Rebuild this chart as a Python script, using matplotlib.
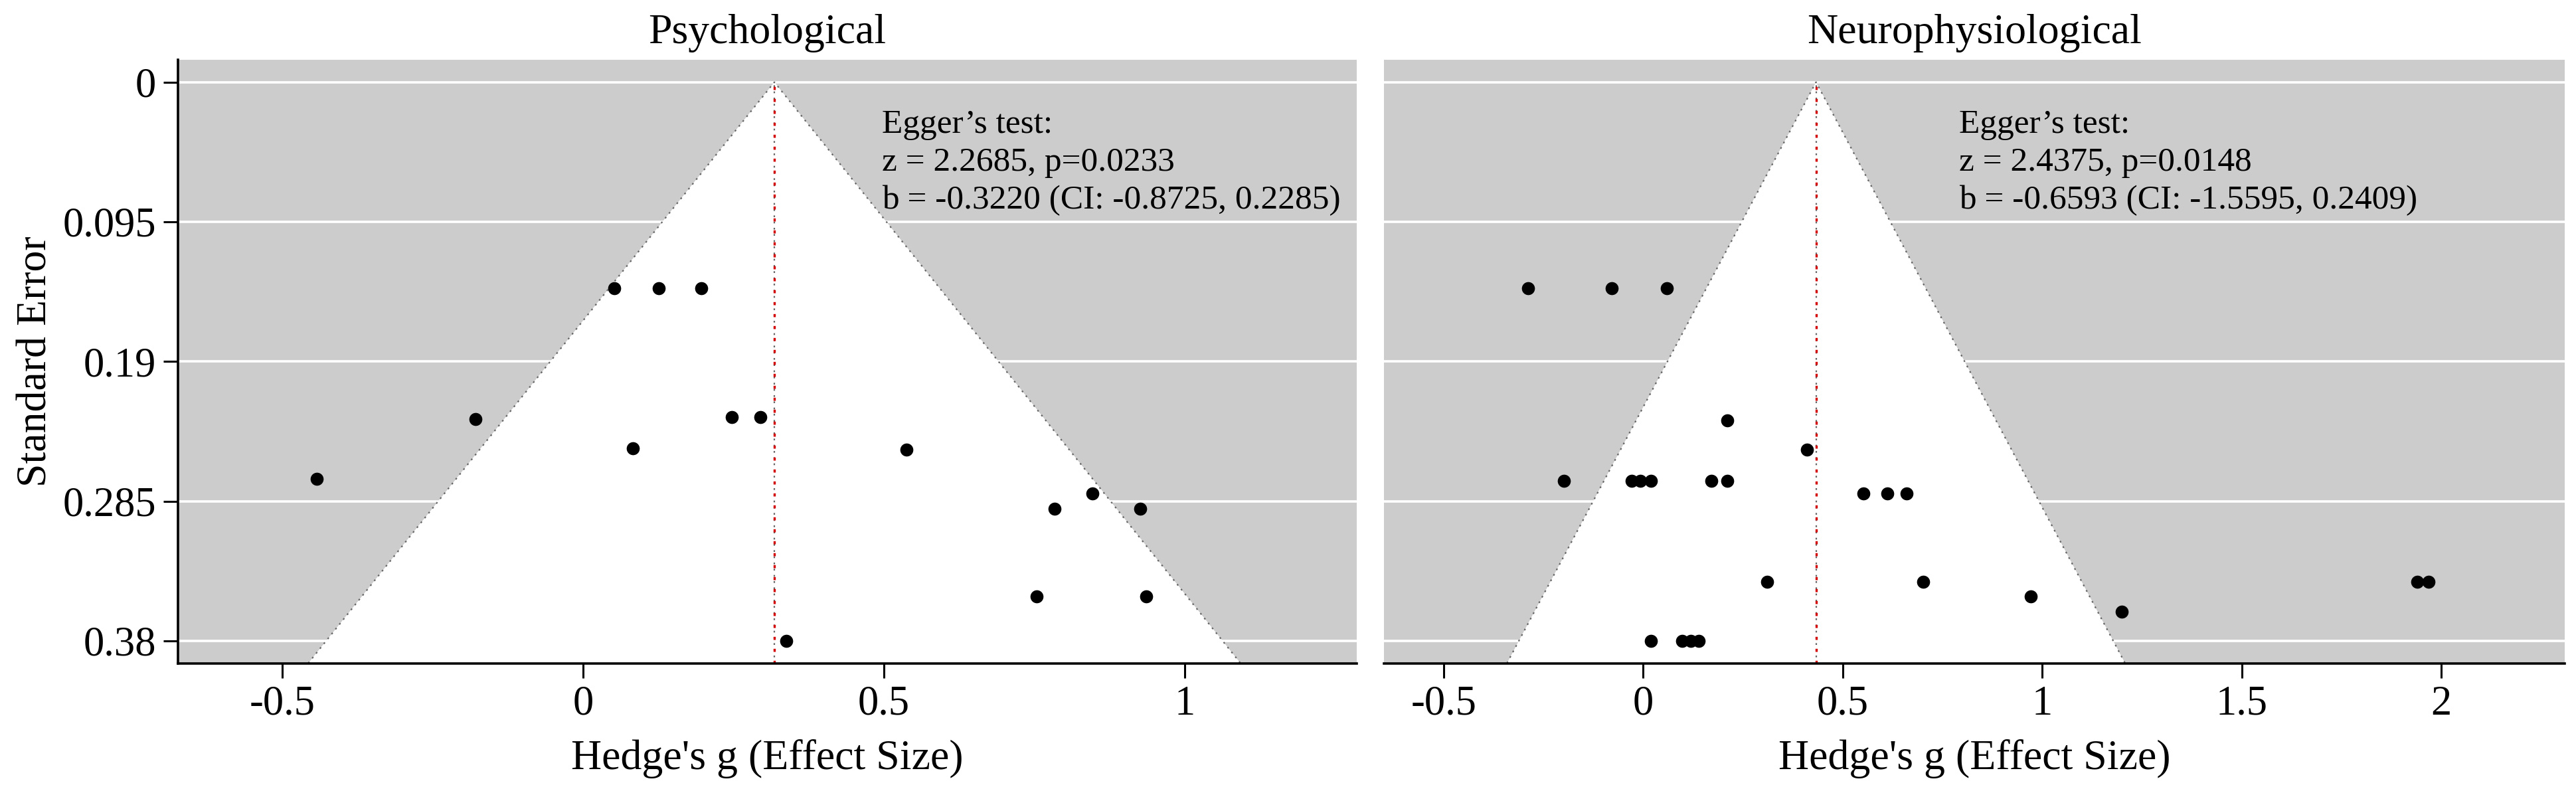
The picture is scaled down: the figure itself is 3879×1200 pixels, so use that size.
import matplotlib.pyplot as plt
from matplotlib.patches import Polygon

plt.rcParams['font.family'] = ['Liberation Serif', 'DejaVu Serif']

# funnel plots for two outcome groups
panel_titles = ['Psychological', 'Neurophysiological']

psych_g = [-0.442, -0.179, 0.052, 0.126, 0.197, 0.083, 0.247, 0.295, 0.538,
           0.338, 0.784, 0.847, 0.926, 0.754, 0.936]
psych_se = [0.270, 0.229, 0.140, 0.140, 0.140, 0.249, 0.228, 0.228, 0.250,
            0.380, 0.290, 0.280, 0.290, 0.350, 0.350]

neuro_g = [-0.289, -0.079, 0.059, 0.210, 0.411, -0.199, -0.029, -0.008, 0.020,
           0.171, 0.210, 0.552, 0.611, 0.660, 0.311, 0.702, 1.940, 1.968,
           0.971, 1.200, 0.020, 0.098, 0.119, 0.139]
neuro_se = [0.140, 0.140, 0.140, 0.230, 0.250, 0.271, 0.271, 0.271, 0.271,
            0.271, 0.271, 0.280, 0.280, 0.280, 0.340, 0.340, 0.340, 0.340,
            0.350, 0.360, 0.380, 0.380, 0.380, 0.380]

pooled_est = [0.318, 0.433]

egger_text = [
    'Egger\u2019s test:\nz = 2.2685, p=0.0233\nb = -0.3220 (CI: -0.8725, 0.2285)',
    'Egger\u2019s test:\nz = 2.4375, p=0.0148\nb = -0.6593 (CI: -1.5595, 0.2409)',
]

se_ticks = [0, 0.095, 0.19, 0.285, 0.38]
se_labels = ['0', '0.095', '0.19', '0.285', '0.38']
g_ticks = [[-0.5, 0, 0.5, 1], [-0.5, 0, 0.5, 1, 1.5, 2]]
g_labels = [['-0.5', '0', '0.5', '1'], ['-0.5', '0', '0.5', '1', '1.5', '2']]
xlims = [(-0.673, 1.286), (-0.650, 2.309)]
ylim = (0.3952, -0.0152)

fig = plt.figure(figsize=(38.8, 12), dpi=100)
ax1 = fig.add_axes([0.0691, 0.1679, 0.4575, 0.7571])
ax2 = fig.add_axes([0.5371, 0.1679, 0.4582, 0.7571])

data = [(psych_g, psych_se), (neuro_g, neuro_se)]
text_x = [0.597, 0.487]

for i, ax in enumerate([ax1, ax2]):
    g, se = data[i]
    est = pooled_est[i]
    ax.set_facecolor('#cccccc')
    ax.set_xlim(*xlims[i])
    ax.set_ylim(*ylim)

    ybot = ylim[0]
    tri = Polygon([(est - 1.96 * ybot, ybot), (est, 0), (est + 1.96 * ybot, ybot)],
                  closed=True, facecolor='white', edgecolor='none', zorder=1)
    ax.add_patch(tri)
    for t in se_ticks:
        ax.axhline(t, color='white', lw=2.6, zorder=1.5)
    ax.plot([est - 1.96 * ybot, est, est + 1.96 * ybot], [ybot, 0, ybot],
            color='#666666', lw=1.6, ls=(0, (1.2, 3)), zorder=2)
    ax.plot([est, est], [ybot, 0], color='#666666', lw=1.6, ls=(0, (1.2, 3)), zorder=2)
    ax.plot([est, est], [ybot, 0.002], color='#d40000', lw=2.4, ls=(0, (1.4, 4)), zorder=2.5)

    ax.scatter(g, se, s=200, color='black', zorder=3, linewidths=0)

    ax.set_title(panel_titles[i], fontsize=46, pad=18)
    ax.set_xticks(g_ticks[i])
    ax.set_xticklabels(g_labels[i])
    ax.set_xlabel("Hedge's g (Effect Size)", fontsize=46, labelpad=17)
    ax.tick_params(axis='x', labelsize=45, length=16, width=2.2, pad=8)
    ax.text(text_x[i], 0.918, egger_text[i], transform=ax.transAxes, fontsize=37,
            va='top', ha='left', linespacing=1.3, zorder=4)

    for s in ['top', 'right']:
        ax.spines[s].set_visible(False)
    ax.spines['bottom'].set_linewidth(2.6)

ax1.set_yticks(se_ticks)
ax1.set_yticklabels(se_labels)
ax1.tick_params(axis='y', labelsize=45, length=16, width=2.2, pad=8)
ax1.spines['left'].set_linewidth(2.6)
ax1.set_ylabel('Standard Error', fontsize=46, labelpad=8)

ax2.spines['left'].set_visible(False)
ax2.set_yticks([])

plt.savefig('out.png', dpi=100)
plt.close()
